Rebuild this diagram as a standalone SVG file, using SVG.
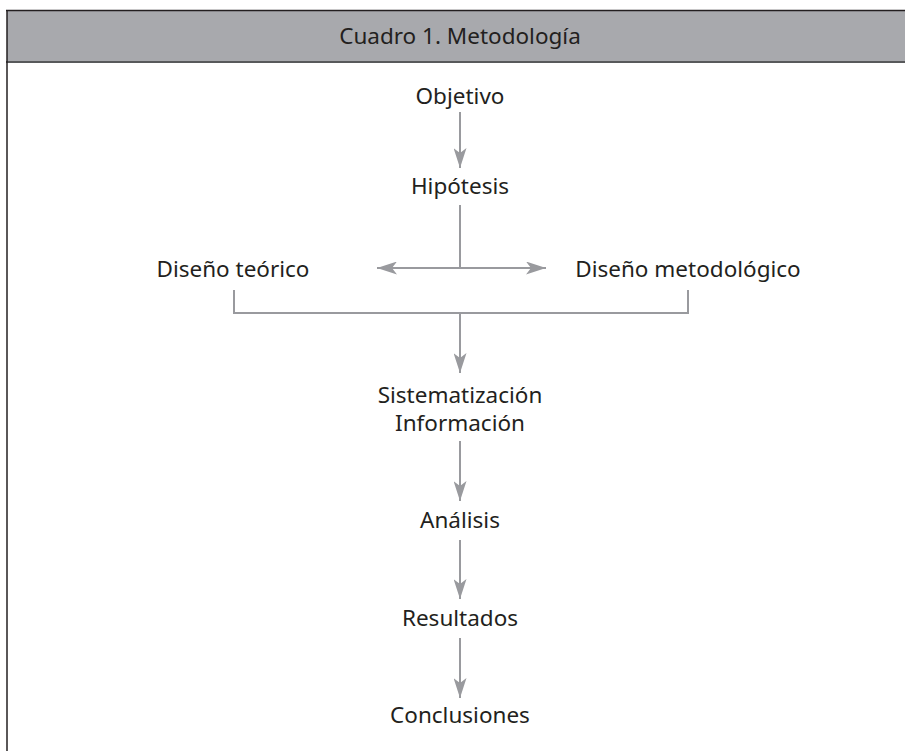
<svg xmlns="http://www.w3.org/2000/svg" width="905" height="751" viewBox="0 0 905 751">
<style>
text{font-family:"Noto Sans","Open Sans","DejaVu Sans",sans-serif;font-size:22.5px;fill:#231f20;text-anchor:middle}
.c{stroke:#999a9e;stroke-width:2;fill:none}
</style>
<defs>
<marker id="ah" viewBox="0 0 20 13" refX="20" refY="6.5" markerWidth="20" markerHeight="13" markerUnits="userSpaceOnUse" orient="auto-start-reverse">
<path d="M0,0 L20,6.5 L0,13 L5,6.5 Z" fill="#999a9e"/>
</marker>
</defs>
<rect width="905" height="751" fill="#fff"/>
<g id="header">
<rect x="7" y="10" width="898" height="52" fill="#a8a9ad"/>
<line x1="6" y1="10.5" x2="905" y2="10.5" stroke="#231f20" stroke-width="1.5"/>
<line x1="6" y1="62" x2="905" y2="62" stroke="#58595b" stroke-width="2"/>
<line x1="7" y1="10" x2="7" y2="751" stroke="#231f20" stroke-width="1.5"/>
<text x="460" y="44">Cuadro 1. Metodología</text>
</g>
<g id="connectors">
<line class="c" x1="460" y1="112" x2="460" y2="168" marker-end="url(#ah)"/>
<line class="c" x1="460" y1="205" x2="460" y2="268"/>
<line class="c" x1="377" y1="268" x2="546" y2="268" marker-start="url(#ah)" marker-end="url(#ah)"/>
<polyline class="c" points="234,290 234,313 688,313 688,290"/>
<line class="c" x1="460" y1="313" x2="460" y2="373" marker-end="url(#ah)"/>
<line class="c" x1="460" y1="441" x2="460" y2="501" marker-end="url(#ah)"/>
<line class="c" x1="460" y1="540" x2="460" y2="599" marker-end="url(#ah)"/>
<line class="c" x1="460" y1="638" x2="460" y2="698" marker-end="url(#ah)"/>
</g>
<g id="objetivo"><text x="460" y="104">Objetivo</text></g>
<g id="hipotesis"><text x="460" y="194">Hipótesis</text></g>
<g id="diseno-teorico"><text x="233" y="277">Diseño teórico</text></g>
<g id="diseno-metodologico"><text x="688" y="277">Diseño metodológico</text></g>
<g id="sistematizacion"><text x="460" y="403">Sistematización</text><text x="460" y="431">Información</text></g>
<g id="analisis"><text x="460" y="528">Análisis</text></g>
<g id="resultados"><text x="460" y="626">Resultados</text></g>
<g id="conclusiones"><text x="460" y="723">Conclusiones</text></g>
</svg>
